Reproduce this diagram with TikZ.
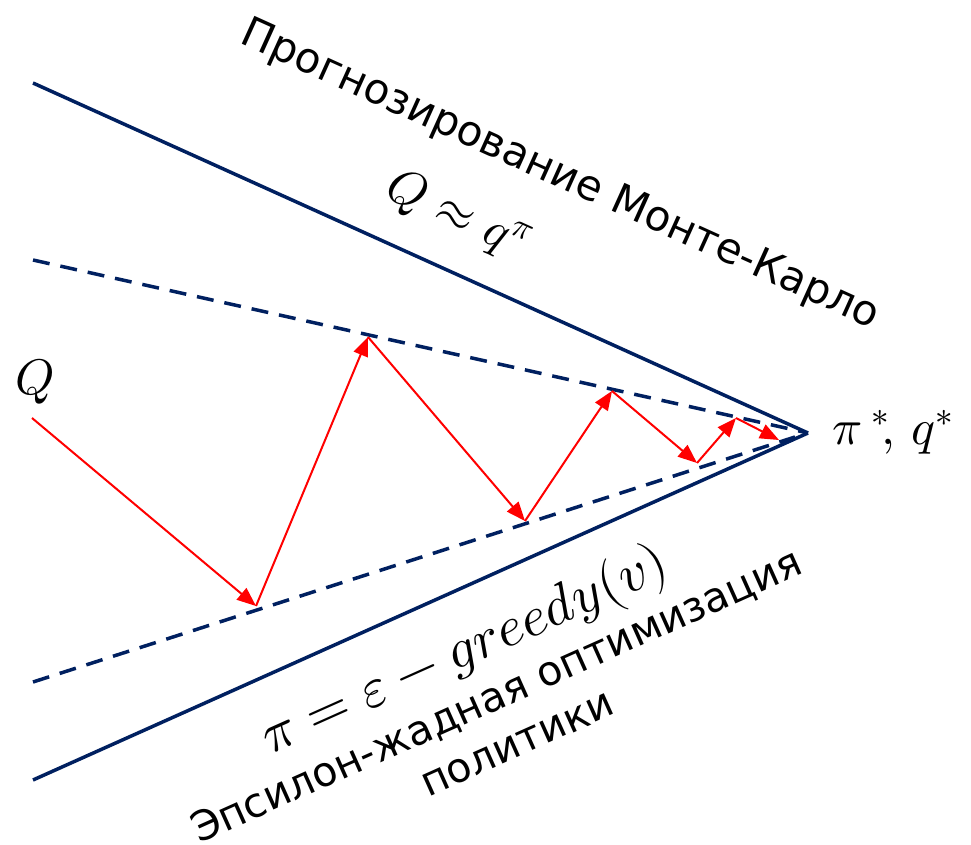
\documentclass[tikz,border=0pt]{standalone}
\usepackage{unicode-math}
\setmainfont{DejaVu Sans}
\setmathfont{Latin Modern Math}
\usetikzlibrary{arrows.meta}
\definecolor{navy}{RGB}{0,32,96}
\definecolor{ared}{RGB}{255,0,0}
\tikzset{
  bound/.style={draw=navy, line width=3.5pt},
  dashbound/.style={draw=navy, line width=3.5pt, dash pattern=on 17pt off 11pt},
  redarrow/.style={draw=ared, line width=2pt, -{Triangle[length=19pt,width=15pt]}, shorten >=0pt},
  lbl/.style={inner sep=0pt, font=\fontsize{42}{52}\selectfont},
  lbls/.style={inner sep=0pt, font=\fontsize{41}{52}\selectfont},
  mlbl/.style={inner sep=0pt, font=\fontsize{50}{56}\selectfont},
  mlblg/.style={inner sep=0pt, font=\fontsize{56}{60}\selectfont}
}
\begin{document}
\begin{tikzpicture}[x=1pt,y=-1pt]
\useasboundingbox (0,0) rectangle (971,845);
% frame coordinates
\coordinate (apex) at (808,433);
\coordinate (ul) at (33,83);
\coordinate (ll) at (33,780);
\coordinate (udl) at (33,260);
\coordinate (ldl) at (33,682);
\coordinate (ldend) at (795,437);
% boundary lines
\draw[bound] (ul) -- (apex);
\draw[bound] (ll) -- (apex);
\draw[dashbound] (udl) -- (apex);
\draw[dashbound] (ldl) -- (ldend);
% zigzag points
\coordinate (p0) at (32,418);
\coordinate (p1) at (256,606);
\coordinate (p2) at (368,337);
\coordinate (p3) at (525,521);
\coordinate (p4) at (612,391);
\coordinate (p5) at (697,463);
\coordinate (p6) at (736,418);
\coordinate (p7) at (779,440);
\draw[redarrow] (p0) -- (p1);
\draw[redarrow] (p1) -- (p2);
\draw[redarrow] (p2) -- (p3);
\draw[redarrow] (p3) -- (p4);
\draw[redarrow] (p4) -- (p5);
\draw[redarrow] (p5) -- (p6);
\draw[redarrow] (p6) -- (p7);
% labels
\node[mlbl] (qlabel) at (35,382) {$Q$};
\node[mlbl, anchor=west] (pilabel) at (832,432) {$\pi^{\;*}\!,\,q^{*}$};
\node[lbl, rotate=-24.3] (mc) at (560,176) {Прогнозирование Монте-Карло};
\node[mlbl, rotate=-24.3] (qapprox) at (458,216) {$Q\approx q^{\pi}$};
\node[mlblg, rotate=24.1] (greedy) at (465,652) {$\pi=\varepsilon-greedy(v)$};
\node[lbls, rotate=24.1] (eps) at (497,697) {Эпсилон-жадная оптимизация};
\node[lbls, rotate=24.1] (pol) at (518,745) {политики};
\end{tikzpicture}
\end{document}
